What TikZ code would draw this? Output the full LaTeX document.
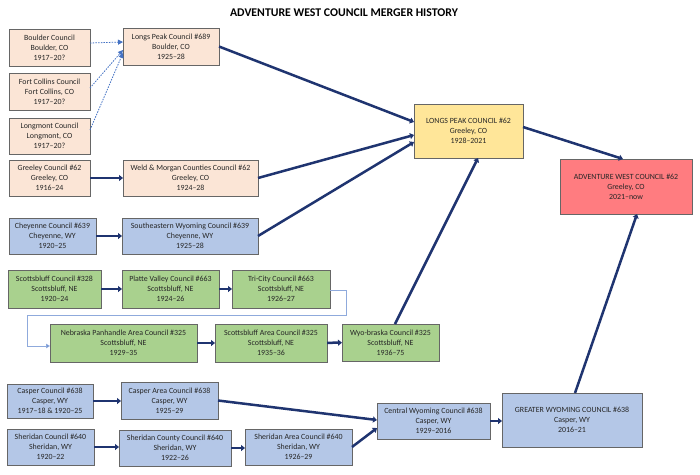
\documentclass[tikz,border=0pt]{standalone}
\usepackage{fontspec}
\setmainfont{Carlito}
\usetikzlibrary{arrows.meta}
\definecolor{peach}{HTML}{FBE5D6}
\definecolor{ylw}{HTML}{FFE699}
\definecolor{rd}{HTML}{FF7C80}
\definecolor{blu}{HTML}{B4C7E7}
\definecolor{grn}{HTML}{A9D18E}
\definecolor{navy}{HTML}{1F3470}
\definecolor{dotblue}{HTML}{4472C4}
\definecolor{lightline}{HTML}{8FAADC}
\tikzset{
  box/.style={draw=black!60, line width=0.6pt, inner sep=1pt, outer sep=0pt, align=center,
    font=\fontsize{7.9}{10}\selectfont, text=black!85},
  peachbox/.style={box, fill=peach},
  ylwbox/.style={box, fill=ylw},
  rdbox/.style={box, fill=rd},
  blubox/.style={box, fill=blu},
  grnbox/.style={box, fill=grn},
  mainarrow/.style={draw=navy, line width=2.5pt, -{Triangle[length=4pt,width=6pt]}},
  dotarrow/.style={draw=dotblue, line width=0.8pt, dash pattern=on 1.5pt off 1.2pt, -{Triangle[length=5pt,width=5pt]}},
  loopline/.style={draw=lightline, line width=0.9pt, -{Triangle[length=4pt,width=4.5pt,fill=dotblue]}},
}
\newcommand\cbox[7]{\node[#6, minimum width={(#4-#2)*1pt}, minimum height={(#5-#3)*1pt}] (#1) at ({(#2+#4)/2},{(#3+#5)/2}) {#7};}
\begin{document}
\begin{tikzpicture}[x=1pt,y=-1pt]
\useasboundingbox[fill=white] (0,0) rectangle (700,474);
\node[font=\fontsize{11.8}{14}\selectfont\bfseries] (title) at (344,13) {ADVENTURE WEST COUNCIL MERGER HISTORY};

\cbox{boulder}{9}{29}{90}{66}{peachbox}{Boulder Council\\Boulder, CO\\1917--20?}
\cbox{lp689}{123}{28}{219}{65}{peachbox}{Longs Peak Council \#689\\Boulder, CO\\1925--28}
\cbox{fortc}{9}{73}{90}{110}{peachbox}{Fort Collins Council\\Fort Collins, CO\\1917--20?}
\cbox{longmont}{9}{118}{90}{154}{peachbox}{Longmont Council\\Longmont, CO\\1917--20?}
\cbox{greeley}{9}{160}{90}{196}{peachbox}{Greeley Council \#62\\Greeley, CO\\1916--24}
\cbox{weld}{123}{160}{258}{196}{peachbox}{Weld \& Morgan Counties Council \#62\\Greeley, CO\\1924--28}
\cbox{cheyenne}{9}{218}{96}{254}{blubox}{Cheyenne Council \#639\\Cheyenne, WY\\1920--25}
\cbox{sewy}{122}{218}{258}{254}{blubox}{Southeastern Wyoming Council \#639\\Cheyenne, WY\\1925--28}

\cbox{scb328}{8}{270}{101}{308}{grnbox}{Scottsbluff Council \#328\\Scottsbluff, NE\\1920--24}
\cbox{platte}{122}{270}{219}{308}{grnbox}{Platte Valley Council \#663\\Scottsbluff, NE\\1924--26}
\cbox{tricity}{232}{270}{330}{308}{grnbox}{Tri-City Council \#663\\Scottsbluff, NE\\1926--27}
\cbox{nebpan}{50}{324}{197}{362}{grnbox}{Nebraska Panhandle Area Council \#325\\Scottsbluff, NE\\1929--35}
\cbox{scbarea}{215}{324}{327}{362}{grnbox}{Scottsbluff Area Council \#325\\Scottsbluff, NE\\1935--36}
\cbox{wyob}{342}{324}{439}{361}{grnbox}{Wyo-braska Council \#325\\Scottsbluff, NE\\1936--75}

\cbox{lp62}{414}{104}{523}{158}{ylwbox}{LONGS PEAK COUNCIL \#62\\Greeley, CO\\1928--2021}
\cbox{aw62}{560}{159}{692}{214}{rdbox}{ADVENTURE WEST COUNCIL \#62\\Greeley, CO\\2021--now}

\cbox{casper}{7}{384}{93}{418}{blubox}{Casper Council \#638\\Casper, WY\\1917--18 \& 1920--25}
\cbox{casarea}{121}{382}{218}{419}{blubox}{Casper Area Council \#638\\Casper, WY\\1925--29}
\cbox{sher}{7}{429}{94}{465}{blubox}{Sheridan Council \#640\\Sheridan, WY\\1920--22}
\cbox{shercty}{119}{430}{231}{466}{blubox}{Sheridan County Council \#640\\Sheridan, WY\\1922--26}
\cbox{sherarea}{245}{429}{352}{465}{blubox}{Sheridan Area Council \#640\\Sheridan, WY\\1926--29}
\cbox{cenwy}{377}{403}{490}{439}{blubox}{Central Wyoming Council \#638\\Casper, WY\\1929--2016}
\cbox{grwy}{502}{393}{642}{447}{blubox}{GREATER WYOMING COUNCIL \#638\\Casper, WY\\2016--21}

% dotted feeders
\draw[dotarrow] ([yshift=4.5pt]boulder.east) -- ([yshift=4.5pt]lp689.west);
\draw[dotarrow] ([yshift=3.5pt]fortc.east) -- ([yshift=-3.5pt]lp689.west);
\draw[dotarrow] ([yshift=6pt]longmont.east) -- ([yshift=-6.5pt]lp689.west);

% main arrows
\draw[mainarrow] (lp689.east) -- ([yshift=9pt]lp62.west);
\draw[mainarrow] (weld.east) -- ([yshift=-4pt]lp62.west);
\draw[mainarrow] (sewy.east) -- ([yshift=-11pt]lp62.west);
\draw[mainarrow] ([xshift=4.5pt]wyob.north) -- ([xshift=9.5pt]lp62.south);
\draw[mainarrow] ([yshift=4pt]lp62.east) -- ([xshift=-3pt]aw62.north);
\draw[mainarrow] ([xshift=3pt]grwy.north) -- ([xshift=11pt]aw62.south);

\draw[mainarrow] (greeley) -- (weld);
\draw[mainarrow] (cheyenne) -- (sewy);
\draw[mainarrow] (scb328) -- (platte);
\draw[mainarrow] (platte) -- (tricity);
\draw[mainarrow] (nebpan) -- (scbarea);
\draw[mainarrow] (scbarea) -- (wyob);
\draw[mainarrow] (casper.east) -- (casarea.west |- casper.east);
\draw[mainarrow] (sher.east) -- (shercty.west |- sher.east);
\draw[mainarrow] (shercty.east) -- (sherarea.west |- shercty.east);
\draw[mainarrow] (casarea.east) -- ([yshift=1pt]cenwy.west);
\draw[mainarrow] (sherarea.east) -- ([yshift=-7pt]cenwy.west);
\draw[mainarrow] (cenwy.east) -- (grwy.west |- cenwy.east);

% elbow connector
\coordinate (e1) at (346,290);
\coordinate (e2) at (346,315);
\coordinate (e3) at (27,315);
\coordinate (e4) at (27,346);
\draw[loopline] ([yshift=-1pt]tricity.east) -- (e1) -- (e2) -- (e3) -- (e4) -- (nebpan.west |- e4);
\end{tikzpicture}
\end{document}
